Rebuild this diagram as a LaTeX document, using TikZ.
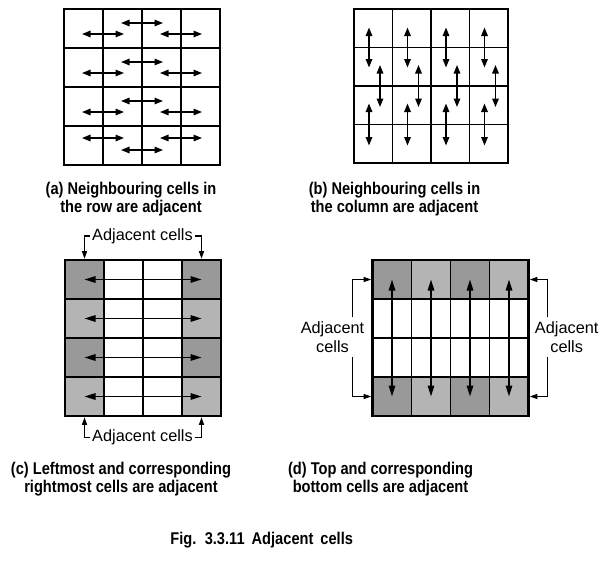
\documentclass[tikz,border=0pt]{standalone}
\usepackage{fontspec}
\setmainfont{Liberation Sans}
\newfontfamily\capfont[FakeStretch=0.86]{Liberation Sans}
\usetikzlibrary{arrows.meta,calc}
\definecolor{darkcell}{RGB}{153,153,153}
\definecolor{lightcell}{RGB}{180,180,180}
\begin{document}
\begin{tikzpicture}[x=1pt,y=-1pt,
  cell/.style={draw, line width=1.4pt, minimum size=39pt, inner sep=0pt, outer sep=0pt},
  cellb/.style={draw, line width=1.2pt, minimum size=38.5pt, inner sep=0pt, outer sep=0pt},
  outerframe/.style={draw, line width=2.6pt},
  dbl/.style={line width=1.5pt, {Triangle[length=8.5pt,width=6.5pt]}-{Triangle[length=8.5pt,width=6.5pt]}},
  dblbig/.style={line width=1.5pt, {Triangle[length=11pt,width=6.5pt]}-{Triangle[length=11pt,width=6.5pt]}},
  brk/.style={line width=1.1pt, -{Triangle[length=7.5pt,width=5pt]}, shorten >=1.3pt},
  lbl/.style={font=\fontsize{16.3}{18.7}\selectfont, inner sep=2pt, align=center},
  captxt/.style={font=\capfont\bfseries\fontsize{17}{18}\selectfont, align=center, inner sep=0pt}]
\useasboundingbox (0,0) rectangle (616,562);

% ---------- (a) ----------
\foreach \r in {0,...,3}{\foreach \k in {0,...,3}{
  \node[cell] (a-\r-\k) at ({64+19.5+39*\k},{9+19.5+39*\r}) {};}}
\draw[outerframe] (a-0-0.north west) rectangle (a-3-3.south east);
\foreach \r in {0,1,2}{
  \draw[dbl] ($(a-\r-1.north east)+(-21,14)$) -- ++(42,0);
  \draw[dbl] ($(a-\r-0.north east)+(-21,25)$) -- ++(42,0);
  \draw[dbl] ($(a-\r-2.north east)+(-21,25)$) -- ++(42,0);}
\draw[dbl] ($(a-3-0.north east)+(-21,12)$) -- ++(42,0);
\draw[dbl] ($(a-3-2.north east)+(-21,12)$) -- ++(42,0);
\draw[dbl] ($(a-3-1.north east)+(-21,24)$) -- ++(42,0);

% ---------- (b) ----------
\foreach \r in {0,...,3}{\foreach \k in {0,...,3}{
  \node[cellb] (b-\r-\k) at ({354+19.25+38.5*\k},{9+19.25+38.5*\r}) {};}}
\draw[outerframe] (b-0-0.north west) rectangle (b-3-3.south east);
\foreach \k in {0,...,3}{
  \draw[dbl] ($(b-0-\k.south west)+(15,-20)$) -- ++(0,40);
  \draw[dbl] ($(b-1-\k.south west)+(26,-21)$) -- ++(0,42);
  \draw[dbl] ($(b-2-\k.south west)+(15,-21)$) -- ++(0,42);}

% ---------- (c) ----------
\foreach \r in {0,...,3}{\foreach \k in {1,2}{
  \node[cell, fill=white] (c-\r-\k) at ({65+19.5+39*\k},{260+19.5+39*\r}) {};}}
\foreach \r in {0,2}{\foreach \k in {0,3}{
  \node[cell, fill=darkcell] (c-\r-\k) at ({65+19.5+39*\k},{260+19.5+39*\r}) {};}}
\foreach \r in {1,3}{\foreach \k in {0,3}{
  \node[cell, fill=lightcell] (c-\r-\k) at ({65+19.5+39*\k},{260+19.5+39*\r}) {};}}
\draw[outerframe] (c-0-0.north west) rectangle (c-3-3.south east);
\foreach \r in {0,...,3}{
  \draw[dblbig] (c-\r-0.center) -- (c-\r-3.center);}
\node[lbl] (tc) at (142.5,236) {Adjacent cells};
\draw[brk] (tc.west) -| (c-0-0.north);
\draw[brk] (tc.east) -| (c-0-3.north);
\node[lbl] (bc) at (142.5,437.5) {Adjacent cells};
\draw[brk] (bc.west) -| (c-3-0.south);
\draw[brk] (bc.east) -| (c-3-3.south);

% ---------- (d) ----------
\foreach \r in {1,2}{\foreach \k in {0,...,3}{
  \node[cell, fill=white] (d-\r-\k) at ({372.5+19.5+39*\k},{260+19.5+39*\r}) {};}}
\foreach \r in {0,3}{\foreach \k in {0,2}{
  \node[cell, fill=darkcell] (d-\r-\k) at ({372.5+19.5+39*\k},{260+19.5+39*\r}) {};}}
\foreach \r in {0,3}{\foreach \k in {1,3}{
  \node[cell, fill=lightcell] (d-\r-\k) at ({372.5+19.5+39*\k},{260+19.5+39*\r}) {};}}
\draw[outerframe] (d-0-0.north west) rectangle (d-3-3.south east);
\foreach \k in {0,...,3}{
  \draw[dblbig] (d-0-\k.center) -- (d-3-\k.center);}
\coordinate (dlx) at (352.3,337);
\node[lbl, inner ysep=4pt] (dl) at (332.5,337) {Adjacent\\cells};
\draw[brk] (dl.north -| dlx) |- (d-0-0.west);
\draw[brk] (dl.south -| dlx) |- (d-3-0.west);
\coordinate (drx) at (547.7,337);
\node[lbl, inner ysep=4pt] (dr) at (566.7,337) {Adjacent\\cells};
\draw[brk] (dr.north -| drx) |- (d-0-3.east);
\draw[brk] (dr.south -| drx) |- (d-3-3.east);

% ---------- captions ----------
\node[captxt] (capa) at (131,199) {(a) Neighbouring cells in\\the row are adjacent};
\node[captxt] (capb) at (394.5,199) {(b) Neighbouring cells in\\the column are adjacent};
\node[captxt] (capc) at (121,479) {(c) Leftmost and corresponding\\rightmost cells are adjacent};
\node[captxt] (capd) at (380.5,479) {(d) Top and corresponding\\bottom cells are adjacent};
\node[captxt] (fig) at (261.7,540) {Fig.\hspace{3pt} 3.3.11\hspace{3pt} Adjacent\hspace{3pt} cells};
\end{tikzpicture}
\end{document}
